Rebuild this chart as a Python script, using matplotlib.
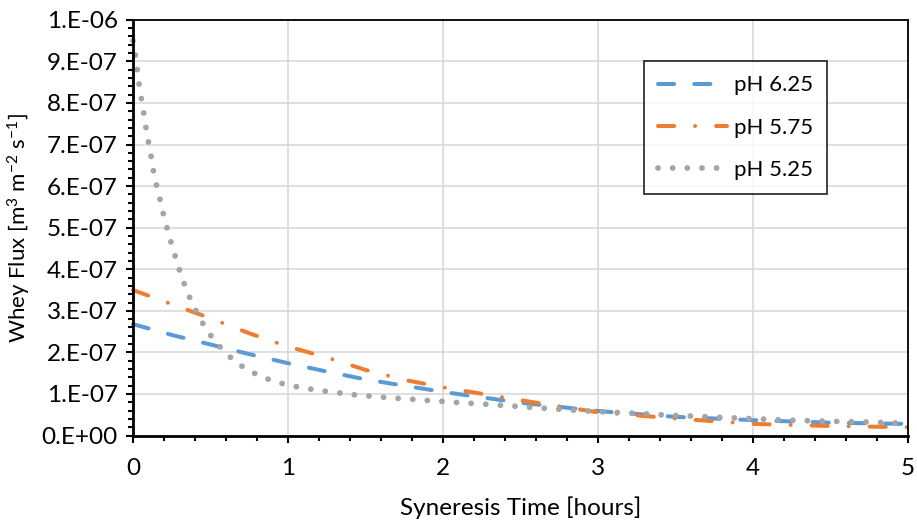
import matplotlib.pyplot as plt
from matplotlib.ticker import MultipleLocator, FixedLocator
import numpy as np

plt.rcParams['font.family'] = ['Lato', 'DejaVu Sans']
plt.rcParams['mathtext.fontset'] = 'custom'
plt.rcParams['mathtext.rm'] = 'Lato'

# values, flux in 1e-7 m3 m-2 s-1
t_625 = [0, 0.25, 0.5, 0.75, 1, 1.25, 1.5, 1.75, 2, 2.5, 3, 3.5, 4, 4.5, 5]
flux_625 = [2.68, 2.42, 2.19, 1.96, 1.74, 1.54, 1.35, 1.2, 1.05, 0.79, 0.59, 0.45, 0.37, 0.31, 0.28]

t_575 = [0, 0.25, 0.5, 0.75, 1, 1.25, 1.5, 1.75, 2, 2.5, 3, 3.5, 4, 4.5, 5]
flux_575 = [3.5, 3.16, 2.82, 2.46, 2.14, 1.88, 1.58, 1.34, 1.16, 0.85, 0.56, 0.41, 0.28, 0.23, 0.2]

t_525 = [0, 0.016, 0.029, 0.041, 0.056, 0.071, 0.086, 0.103, 0.12, 0.135, 0.157,
         0.18, 0.201, 0.227, 0.253, 0.282, 0.31, 0.344, 0.381, 0.426, 0.473, 0.529,
         0.594, 0.665, 0.744, 0.832, 0.923, 1.017, 1.111, 1.208, 1.303, 1.398, 1.495,
         1.59, 1.686, 1.783, 1.877, 1.974, 2.07, 2.26, 2.45, 2.64, 2.83, 3.02, 3.21,
         3.4, 3.59, 3.78, 3.97, 4.17, 4.36, 4.55, 4.74, 4.94, 5.0]
flux_525 = [9.5, 9.12, 8.77, 8.41, 8.06, 7.71, 7.35, 7.0, 6.65, 6.29, 5.94,
            5.6, 5.24, 4.89, 4.55, 4.2, 3.86, 3.52, 3.19, 2.86, 2.55, 2.27,
            2.0, 1.76, 1.57, 1.41, 1.29, 1.2, 1.14, 1.08, 1.04, 0.99, 0.96,
            0.93, 0.9, 0.88, 0.85, 0.83, 0.8, 0.758, 0.71, 0.66, 0.614, 0.573, 0.54,
            0.5, 0.47, 0.438, 0.41, 0.38, 0.356, 0.34, 0.325, 0.3, 0.29]

y_ticks = [0, 1e-7, 2e-7, 3e-7, 4e-7, 5e-7, 6e-7, 7e-7, 8e-7, 9e-7, 1e-6]
y_labels = ['0.E+00', '1.E-07', '2.E-07', '3.E-07', '4.E-07', '5.E-07',
            '6.E-07', '7.E-07', '8.E-07', '9.E-07', '1.E-06']

fig = plt.figure(figsize=(9.17, 5.21), dpi=100)
ax = fig.add_axes([0.145, 0.164, 0.845, 0.798])

lw = 2.9
ax.plot(t_625, np.array(flux_625) * 1e-7, color='#5b9bd5', lw=lw, clip_on=False,
        dashes=(4, 5), dash_capstyle='round', label='pH 6.25')
ax.plot(t_575, np.array(flux_575) * 1e-7, color='#ed7d31', lw=lw, clip_on=False,
        dashes=(4, 5.2, 0.01, 5.2), dash_capstyle='round', label='pH 5.75')
ax.plot(t_525, np.array(flux_525) * 1e-7, color='#a5a5a5', lw=4.2, clip_on=False,
        dashes=(0.01, 2.5), dash_capstyle='round', label='pH 5.25')

ax.set_xlim(0, 5)
ax.set_ylim(0, 1e-6)
ax.xaxis.set_major_locator(MultipleLocator(1))
ax.xaxis.set_minor_locator(MultipleLocator(0.2))
ax.yaxis.set_major_locator(FixedLocator(y_ticks))
ax.set_yticklabels(y_labels)
ax.yaxis.set_minor_locator(MultipleLocator(2e-8))

ax.grid(True, which='major', color='#d9d9d9', lw=1.2)
ax.set_axisbelow(True)
ax.tick_params(which='major', length=5, width=1.5, labelsize=17.5, colors='black')
ax.tick_params(which='minor', length=3.5, width=1.5)
ax.tick_params(axis='x', which='major', pad=11)
ax.tick_params(axis='y', which='major', pad=6)

for s in ['left', 'bottom']:
    ax.spines[s].set_linewidth(2)
for s in ['top', 'right']:
    ax.spines[s].set_linewidth(1.3)

ax.set_xlabel('Syneresis Time [hours]', fontsize=17.5, labelpad=13)
ax.set_ylabel(r'Whey Flux [m$\mathregular{^{3}}$ m$\mathregular{^{-2}}$ s$\mathregular{^{-1}}$]',
              fontsize=16, labelpad=6)

leg = ax.legend(loc='upper left', bbox_to_anchor=(0.659, 0.901), fontsize=16,
                frameon=True, fancybox=False, handlelength=3.1, handletextpad=0.3,
                labelspacing=1.0, borderpad=0.65, borderaxespad=0)
leg.get_frame().set_edgecolor('black')
leg.get_frame().set_linewidth(1.3)

fig.savefig('out.png', dpi=100)
